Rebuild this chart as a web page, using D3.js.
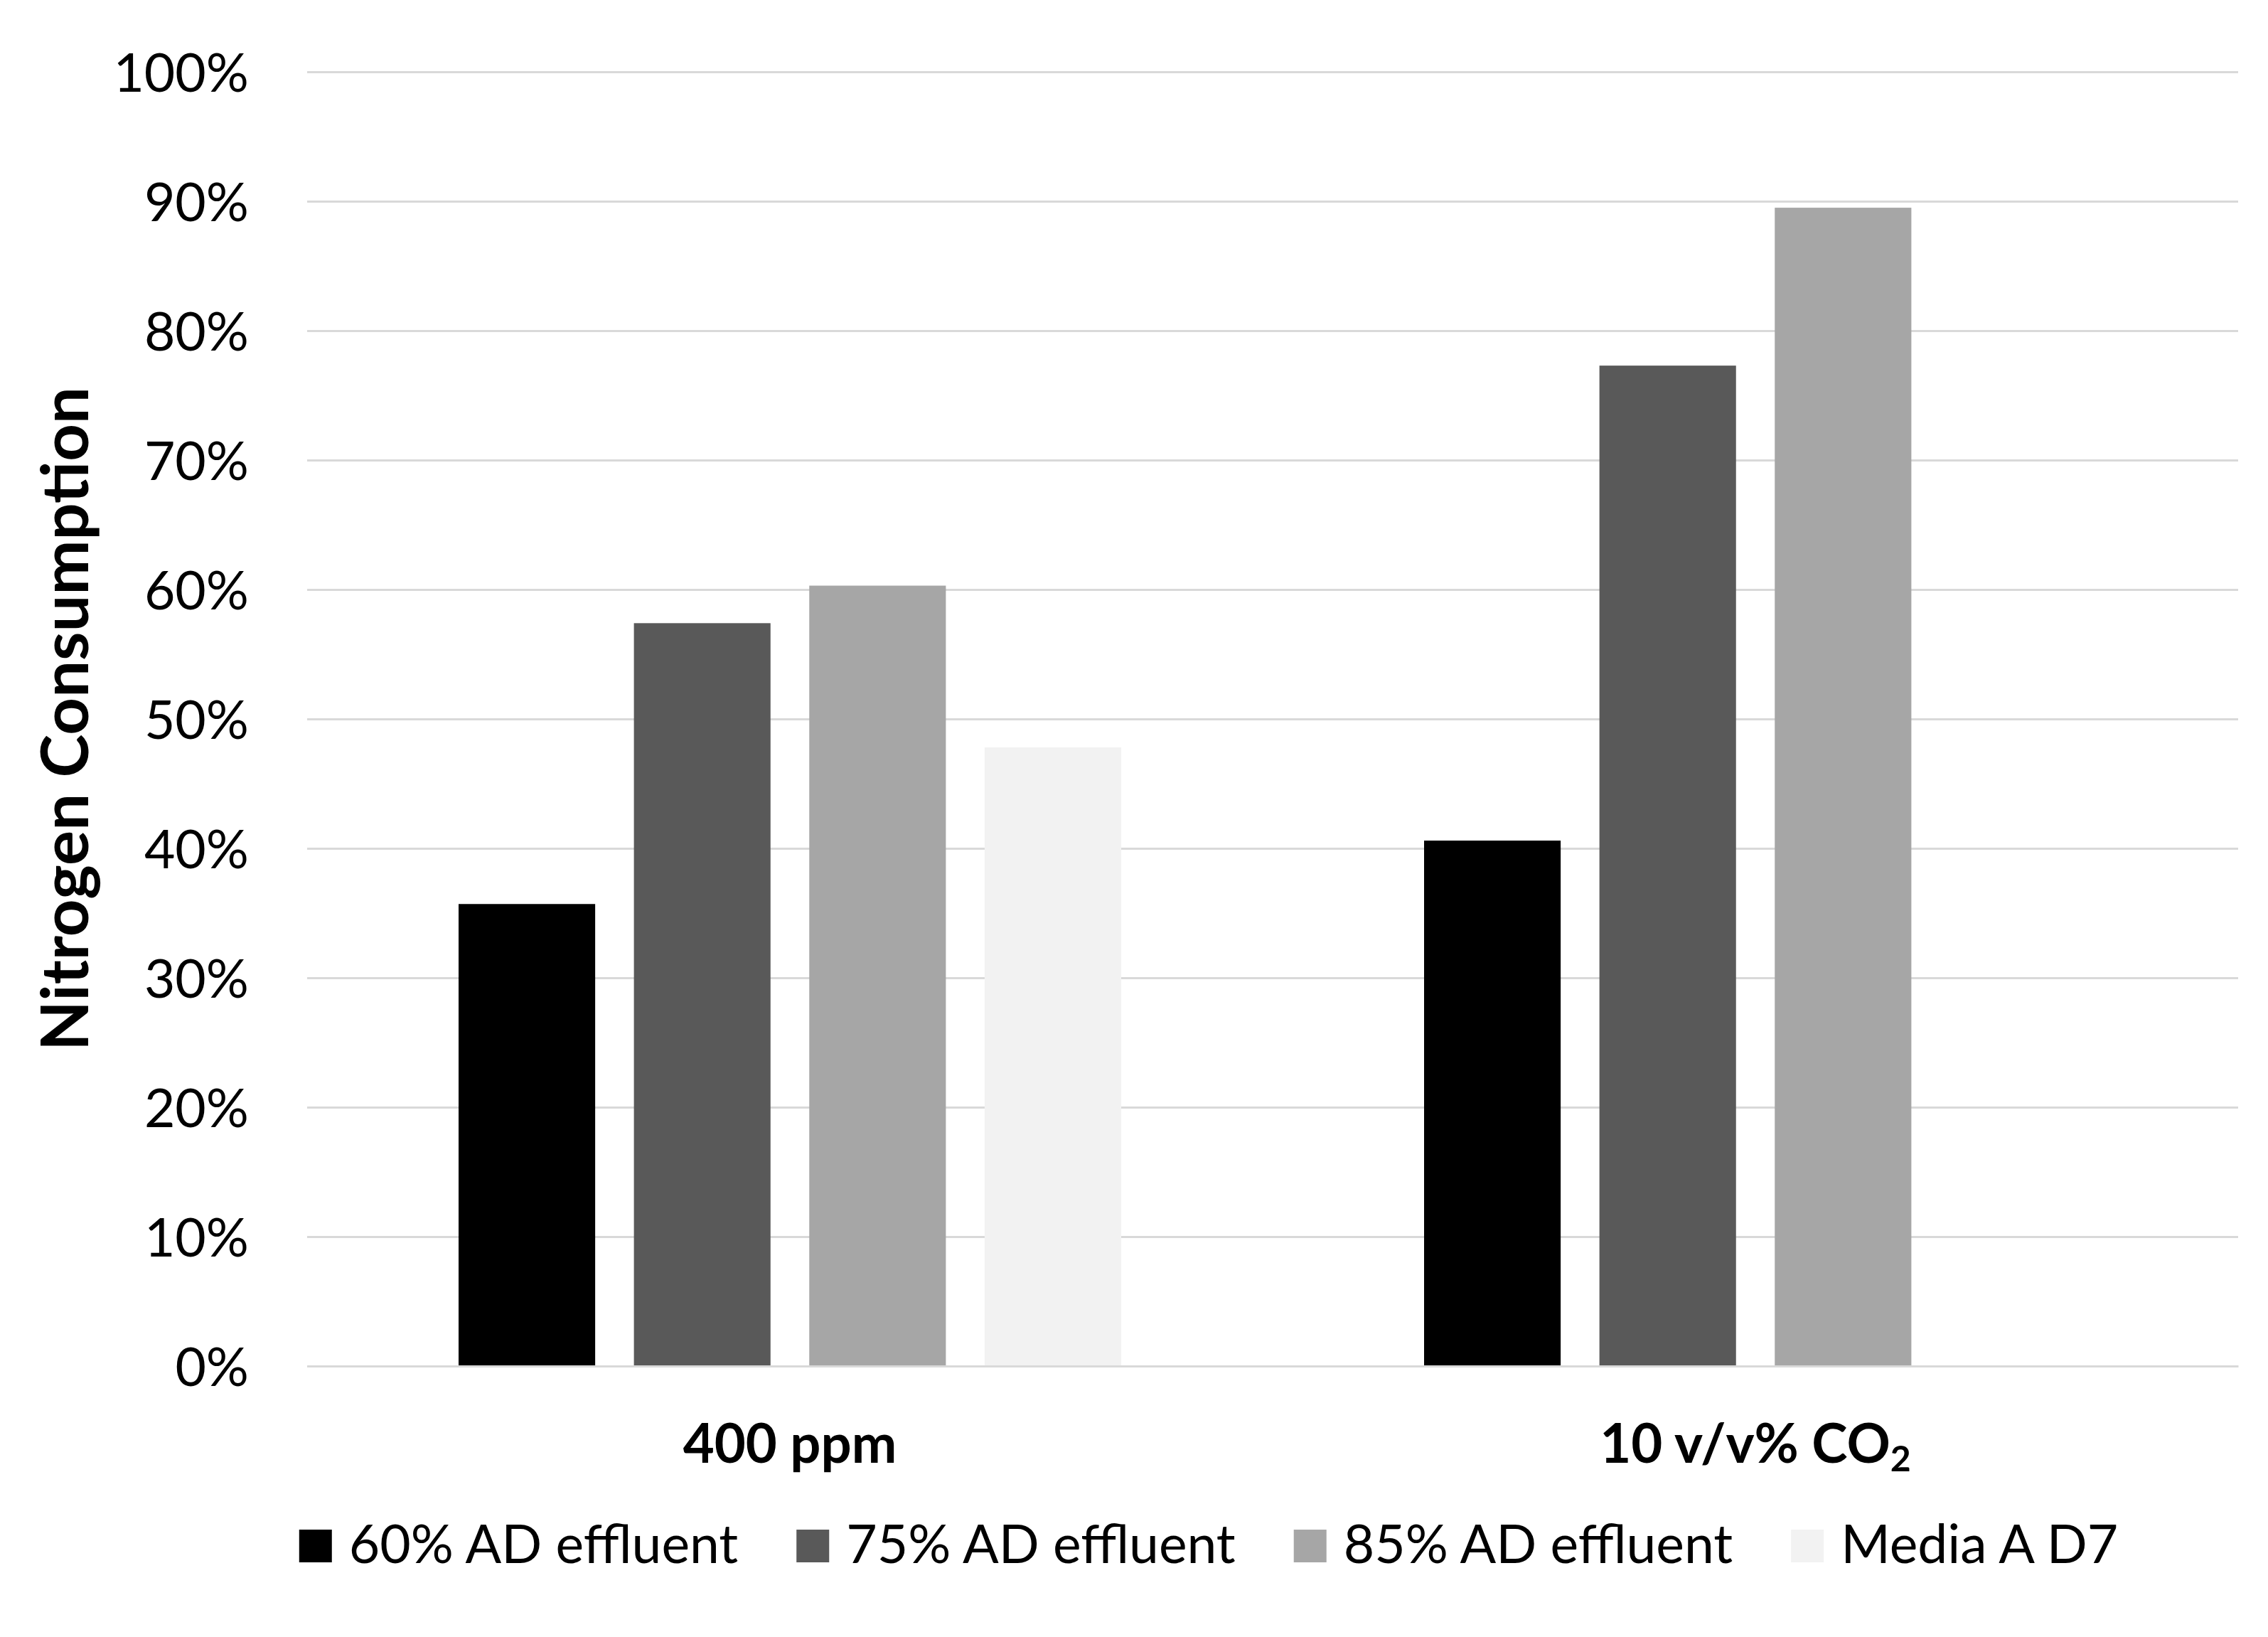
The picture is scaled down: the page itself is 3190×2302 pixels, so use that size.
<!DOCTYPE html>
<html>
<head>
<meta charset="utf-8">
<script src="https://cdn.jsdelivr.net/npm/d3@7"></script>
<style>
  body { margin: 0; background: #fff; }
  svg { display: block; font-family: Lato, "Open Sans", sans-serif; }
</style>
</head>
<body>
<div id="chart"></div>
<script>
    // data
    var categories = ["400 ppm", "10 v/v% CO2"];
    var seriesNames = ["60% AD effluent", "75% AD effluent", "85% AD effluent", "Media A D7"];
    var values60 = [0.357, 0.406];
    var values75 = [0.574, 0.773];
    var values85 = [0.603, 0.895];
    var valuesMediaA = [0.478, null];
    var yTicks = [0, 0.1, 0.2, 0.3, 0.4, 0.5, 0.6, 0.7, 0.8, 0.9, 1.0];
    var colors = ["#000000", "#595959", "#a6a6a6", "#f2f2f2"];

    var seriesValues = [values60, values75, values85, valuesMediaA];

    // size of the page and plot area
    var W = 3190, H = 2302;
    var margin = { top: 101, right: 42, bottom: 381, left: 432 },
      width = W - margin.left - margin.right,
      height = H - margin.top - margin.bottom;

    var svg = d3.select("#chart")
      .append("svg")
      .attr("width", W)
      .attr("height", H);

    var g = svg.append("g")
      .attr("transform", "translate(" + margin.left + "," + margin.top + ")");

    // scales
    var x0 = d3.scaleBand()
      .domain(categories)
      .range([0, width]);

    var clusterPad = 213;
    var x1 = d3.scaleBand()
      .domain(seriesNames)
      .range([clusterPad, x0.bandwidth() - clusterPad])
      .paddingInner(0.221);

    var y = d3.scaleLinear()
      .domain([0, 1])
      .range([height, 0]);

    // gridlines + y tick labels
    var yAxis = g.append("g")
      .call(d3.axisLeft(y)
        .tickValues(yTicks)
        .tickSize(-width)
        .tickPadding(82)
        .tickFormat(d3.format(".0%")));
    yAxis.select(".domain").remove();
    yAxis.selectAll(".tick line")
      .attr("stroke", "#d9d9d9")
      .attr("stroke-width", 3);
    yAxis.selectAll(".tick text")
      .attr("font-size", 75)
      .attr("fill", "#000")
      .attr("dy", "0.36em")
      .style("font-family", "Lato, sans-serif");

    // bars
    var groups = g.selectAll(".cat")
      .data(categories)
      .enter()
      .append("g")
      .attr("class", "cat")
      .attr("transform", function (d) { return "translate(" + x0(d) + ",0)"; });

    groups.selectAll("rect")
      .data(function (d, i) {
        return seriesNames.map(function (s, j) {
          return { series: s, value: seriesValues[j][i], color: colors[j] };
        }).filter(function (e) { return e.value != null; });
      })
      .enter()
      .append("rect")
      .attr("x", function (d) { return x1(d.series); })
      .attr("y", function (d) { return y(d.value); })
      .attr("width", x1.bandwidth())
      .attr("height", function (d) { return height - y(d.value); })
      .attr("fill", function (d) { return d.color; });

    // category labels
    var xAxis = g.append("g")
      .attr("transform", "translate(0," + height + ")")
      .call(d3.axisBottom(x0).tickSize(0).tickPadding(0).tickFormat(""));
    xAxis.select(".domain").attr("stroke", "#d9d9d9").attr("stroke-width", 3);

    xAxis.selectAll(".tick").each(function (d) {
      var t = d3.select(this).append("text")
        .attr("y", 136)
        .attr("text-anchor", "middle")
        .attr("font-size", 76)
        .attr("font-weight", "bold")
        .attr("fill", "#000")
        .style("font-family", "Lato, sans-serif");
      if (d === "10 v/v% CO2") {
        t.append("tspan").text("10 v/v% CO");
        t.append("tspan").attr("font-size", 50).attr("dy", 12).text("2");
      } else {
        t.text(d);
      }
    });

    // y axis title
    svg.append("text")
      .attr("transform", "translate(124," + (margin.top + height / 2) + ") rotate(-90)")
      .attr("text-anchor", "middle")
      .attr("font-size", 92)
      .attr("font-weight", "bold")
      .attr("fill", "#000")
      .text("Nitrogen Consumption");

    // legend
    var legend = svg.append("g");
    var items = legend.selectAll("g")
      .data(seriesNames)
      .enter()
      .append("g");

    items.append("rect")
      .attr("width", 46)
      .attr("height", 46)
      .attr("y", 2151)
      .attr("fill", function (d, i) { return colors[i]; });

    items.append("text")
      .attr("x", 70)
      .attr("y", 2198)
      .attr("font-size", 75)
      .attr("fill", "#000")
      .text(function (d) { return d; });

    // place items one after another, centred
    var gap = 82, pos = 0, offsets = [];
    items.each(function () {
      offsets.push(pos);
      pos += 70 + d3.select(this).select("text").node().getComputedTextLength() + gap;
    });
    var total = pos - gap;
    var start = 1700 - total / 2;
    items.attr("transform", function (d, i) { return "translate(" + (start + offsets[i]) + ",0)"; });

  </script>
</body>
</html>
